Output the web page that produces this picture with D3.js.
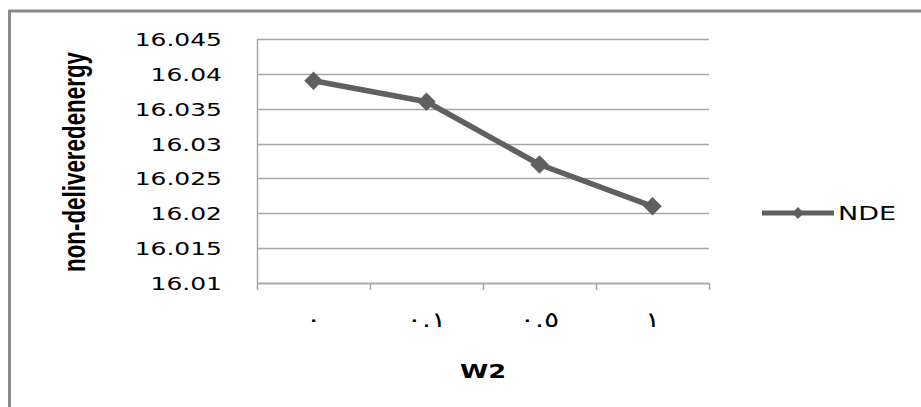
<!DOCTYPE html>
<html><head><meta charset="utf-8">
<script src="https://cdn.jsdelivr.net/npm/d3@7"></script>
<style>html,body{margin:0;padding:0;background:#fff;}svg{display:block;}</style>
</head><body>
<svg id="c" width="921" height="407"></svg>
<script>
const categories = ["٠", "٠.١", "٠.٥", "١"];
const ndeValues = [16.039, 16.036, 16.027, 16.021];
const yTicks = [16.01, 16.015, 16.02, 16.025, 16.03, 16.035, 16.04, 16.045];
const seriesName = "NDE";
const xTitle = "W2";
const yTitle = "non-deliveredenergy";

const svg = d3.select("#c");
const SX = 1.35;
const plot = {left: 257, right: 709, top: 39, bottom: 283};

// outer border (top & left)
svg.append("line").attr("x1", 9).attr("x2", 921).attr("y1", 11).attr("y2", 11).attr("stroke", "#8a8a8a").attr("stroke-width", 3);
svg.append("line").attr("x1", 9.5).attr("x2", 9.5).attr("y1", 10).attr("y2", 407).attr("stroke", "#8a8a8a").attr("stroke-width", 3);

const x = d3.scaleBand().domain(categories).range([plot.left, plot.right]);
const y = d3.scaleLinear().domain([16.01, 16.045]).range([plot.bottom, plot.top]);

// gridlines
svg.append("g").selectAll("line").data(yTicks).join("line")
  .attr("x1", plot.left).attr("x2", plot.right)
  .attr("y1", d => Math.round(y(d)) + 0.5).attr("y2", d => Math.round(y(d)) + 0.5)
  .attr("stroke", "#a6a6a6").attr("stroke-width", 1.5);

// y axis line
svg.append("line").attr("x1", plot.left + 0.5).attr("x2", plot.left + 0.5)
  .attr("y1", plot.top).attr("y2", plot.bottom).attr("stroke", "#a6a6a6").attr("stroke-width", 1.5);

// x axis with ticks at band boundaries
const bounds = categories.map(c => x(c)).concat([plot.right]);
svg.append("line").attr("x1", plot.left).attr("x2", plot.right)
  .attr("y1", plot.bottom + 0.5).attr("y2", plot.bottom + 0.5).attr("stroke", "#a6a6a6").attr("stroke-width", 1.5);
svg.append("g").selectAll("line").data(bounds).join("line")
  .attr("x1", d => Math.round(d) + 0.5).attr("x2", d => Math.round(d) + 0.5)
  .attr("y1", plot.bottom).attr("y2", plot.bottom + 7)
  .attr("stroke", "#a6a6a6").attr("stroke-width", 1.5);

// y tick labels
svg.append("g").selectAll("text").data(yTicks).join("text")
  .attr("transform", d => `translate(222,${y(d) + 7}) scale(${SX},1)`)
  .attr("text-anchor", "end")
  .attr("font-family", "DejaVu Sans, sans-serif").attr("font-size", 18.5).attr("fill", "#000")
  .text(d => String(d));

// x tick labels
svg.append("g").selectAll("text").data(categories).join("text")
  .attr("transform", d => `translate(${x(d) + x.bandwidth() / 2},${327}) scale(${SX},1)`)
  .attr("text-anchor", "middle")
  .attr("font-family", "DejaVu Sans, sans-serif").attr("font-size", 21).attr("fill", "#000")
  .text(d => d);

// x title
svg.append("text").attr("transform", `translate(483,378) scale(${SX},1)`)
  .attr("text-anchor", "middle").attr("font-family", "DejaVu Sans, sans-serif")
  .attr("font-weight", "bold").attr("font-size", 19).attr("fill", "#000").text(xTitle);

// y title
svg.append("text").attr("transform", `translate(85,162) rotate(-90) scale(1,1.3)`)
  .attr("text-anchor", "middle").attr("font-family", "Liberation Sans Narrow, Liberation Sans, sans-serif")
  .attr("font-size", 24).attr("font-weight", "bold").attr("fill", "#000")
  .attr("textLength", 220).attr("lengthAdjust", "spacingAndGlyphs").text(yTitle);

// series line
const line = d3.line().x((d, i) => x(categories[i]) + x.bandwidth() / 2).y(d => y(d));
const col = "#606060";
svg.append("path").datum(ndeValues).attr("d", line).attr("fill", "none")
  .attr("stroke", col).attr("stroke-width", 5.5).attr("stroke-linejoin", "round");

const diamond = d3.symbol().type(d3.symbolSquare).size(170);
svg.append("g").selectAll("path").data(ndeValues).join("path")
  .attr("d", diamond())
  .attr("transform", (d, i) => `translate(${x(categories[i]) + x.bandwidth() / 2},${y(d)}) rotate(45)`)
  .attr("fill", col);

// legend
svg.append("line").attr("x1", 762).attr("x2", 834).attr("y1", 213).attr("y2", 213)
  .attr("stroke", col).attr("stroke-width", 5);
svg.append("path").attr("d", d3.symbol().type(d3.symbolSquare).size(70)())
  .attr("transform", "translate(798,213) rotate(45)").attr("fill", col);
svg.append("text").attr("transform", `translate(838,220) scale(${SX},1)`)
  .attr("font-family", "DejaVu Sans, sans-serif").attr("font-size", 20).attr("fill", "#000").text(seriesName);
</script>
</body></html>
